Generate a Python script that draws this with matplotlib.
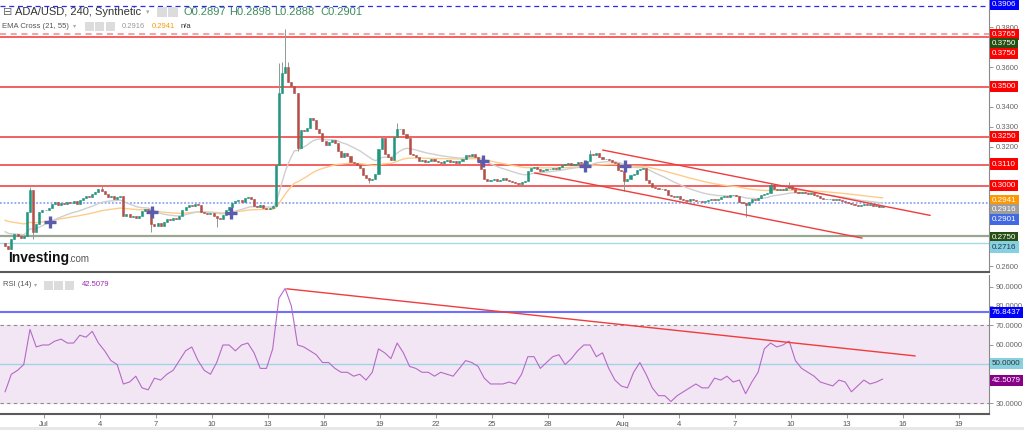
import numpy as np
import pandas as pd
import matplotlib
matplotlib.use('Agg')
import matplotlib.pyplot as plt
import matplotlib.dates as mdates
from matplotlib.patches import Rectangle
from matplotlib.ticker import FormatStrFormatter

plt.rcParams['font.family'] = ['Liberation Sans', 'DejaVu Sans']

# ADA/USD 4h closes, first bar 2018-06-28 20:00
first_candle = '2018-06-28 20:00'
first_open = 0.2715
closes = [
    0.2700,                                          # Jun 28
    0.2685, 0.2735, 0.2760, 0.2750, 0.2740, 0.2750,  # Jun 29
    0.2870, 0.2980, 0.2770, 0.2810, 0.2870, 0.2880,  # Jun 30
    0.2880, 0.2890, 0.2910, 0.2920, 0.2905, 0.2915,  # Jul 1
    0.2910, 0.2920, 0.2915, 0.2925, 0.2910, 0.2930,
    0.2940, 0.2950, 0.2945, 0.2960, 0.2970, 0.2985,
    0.2975, 0.2960, 0.2945, 0.2950, 0.2935, 0.2945,  # Jul 4
    0.2950, 0.2850, 0.2860, 0.2845, 0.2850, 0.2840,
    0.2850, 0.2875, 0.2885, 0.2880, 0.2810, 0.2800,
    0.2815, 0.2800, 0.2820, 0.2835, 0.2830, 0.2840,  # Jul 7
    0.2835, 0.2850, 0.2880, 0.2895, 0.2905, 0.2900,
    0.2910, 0.2905, 0.2870, 0.2865, 0.2860, 0.2865,
    0.2850, 0.2840, 0.2835, 0.2855, 0.2880, 0.2895,  # Jul 10
    0.2915, 0.2925, 0.2930, 0.2920, 0.2940, 0.2945,
    0.2935, 0.2900, 0.2895, 0.2905, 0.2890, 0.2885,
    0.2890, 0.2900, 0.3110, 0.3470, 0.3570, 0.3600,  # Jul 13
    0.3525, 0.3505, 0.3470, 0.3195, 0.3285, 0.3280,
    0.3295, 0.3345, 0.3335, 0.3290, 0.3270, 0.3230,
    0.3210, 0.3225, 0.3235, 0.3220, 0.3180, 0.3150,  # Jul 16
    0.3170, 0.3155, 0.3125, 0.3120, 0.3110, 0.3095,
    0.3060, 0.3045, 0.3035, 0.3040, 0.3065, 0.3190,
    0.3245, 0.3165, 0.3150, 0.3135, 0.3250, 0.3290,  # Jul 19
    0.3290, 0.3265, 0.3245, 0.3165, 0.3160, 0.3150,
    0.3130, 0.3135, 0.3125, 0.3130, 0.3140, 0.3130,
    0.3125, 0.3120, 0.3130, 0.3135, 0.3125, 0.3130,  # Jul 22
    0.3120, 0.3130, 0.3140, 0.3160, 0.3155, 0.3165,
    0.3150, 0.3130, 0.3090, 0.3040, 0.3030, 0.3035,
    0.3040, 0.3030, 0.3035, 0.3045, 0.3035, 0.3030,  # Jul 25
    0.3025, 0.3020, 0.3015, 0.3025, 0.3030, 0.3080,
    0.3095, 0.3100, 0.3090, 0.3080, 0.3085, 0.3090,
    0.3090, 0.3095, 0.3090, 0.3100, 0.3110, 0.3115,  # Jul 28
    0.3120, 0.3110, 0.3115, 0.3125, 0.3120, 0.3115,
    0.3130, 0.3165, 0.3160, 0.3170, 0.3150, 0.3140,
    0.3140, 0.3135, 0.3125, 0.3120, 0.3085, 0.3080,  # Jul 31
    0.3030, 0.3040, 0.3060, 0.3065, 0.3085, 0.3090,  # Aug 1
    0.3095, 0.3035, 0.3020, 0.2995, 0.2990, 0.2985,
    0.2985, 0.2980, 0.2955, 0.2950, 0.2945, 0.2950,
    0.2935, 0.2930, 0.2925, 0.2935, 0.2930, 0.2925,  # Aug 4
    0.2925, 0.2920, 0.2925, 0.2930, 0.2935, 0.2930,
    0.2935, 0.2945, 0.2950, 0.2945, 0.2955, 0.2955,
    0.2950, 0.2920, 0.2915, 0.2905, 0.2920, 0.2935,  # Aug 7
    0.2930, 0.2940, 0.2955, 0.2960, 0.2965, 0.3005,
    0.2985, 0.2980, 0.2985, 0.2980, 0.2990, 0.3000,
    0.2985, 0.2970, 0.2965, 0.2970, 0.2965, 0.2960,  # Aug 10
    0.2965, 0.2955, 0.2950, 0.2940, 0.2935, 0.2935,
    0.2935, 0.2930, 0.2935, 0.2930, 0.2925, 0.2920,
    0.2915, 0.2910, 0.2905, 0.2900, 0.2905, 0.2910,  # Aug 13
    0.2905, 0.2910, 0.2900, 0.2905, 0.2895, 0.2901,
]

# visible wicks (other bars drawn body only)
spike_highs = {
    '2018-06-30 04:00': 0.2998, '2018-07-04 00:00': 0.3000,
    '2018-07-13 12:00': 0.3620, '2018-07-13 16:00': 0.3625,
    '2018-07-13 20:00': 0.3790, '2018-07-14 00:00': 0.3625,
    '2018-07-19 20:00': 0.3320, '2018-07-30 04:00': 0.3185,
    '2018-08-08 20:00': 0.3018, '2018-08-09 20:00': 0.3022,
}
spike_lows = {
    '2018-06-30 08:00': 0.2735, '2018-07-06 16:00': 0.2772,
    '2018-07-10 04:00': 0.2795, '2018-07-14 12:00': 0.3180,
    '2018-07-18 08:00': 0.3020, '2018-08-01 00:00': 0.2975,
    '2018-08-07 12:00': 0.2845,
}

# RSI(14), one reading every second bar
rsi_every_2nd_bar = [
    36, 45, 47, 50, 68, 59, 60, 60, 62, 63, 61, 61, 65, 64, 67, 61, 57, 52,
    50, 40, 41, 44, 38, 37, 43, 42, 45, 47, 52, 57, 59, 52, 47, 45, 51, 60,
    60, 57, 60, 61, 56, 48, 48, 58, 84, 89, 80, 60, 59, 57, 55, 51, 51, 48,
    46, 46, 44, 45, 42, 46, 58, 56, 53, 61, 56, 49, 48, 46, 46, 44, 46, 45,
    44, 48, 52, 51, 49, 43, 40, 40, 40, 41, 40, 45, 54, 54, 48, 51, 54, 55,
    50, 53, 57, 60, 60, 54, 56, 48, 42, 39, 38, 46, 51, 45, 38, 34, 34, 31,
    34, 36, 38, 40, 38, 38, 43, 42, 44, 41, 42, 35, 41, 46, 58, 61, 59, 60,
    62, 52, 48, 46, 44, 41, 40, 39, 42, 41, 36, 39, 42, 40, 41, 42.5,
]

# indicator state carried in from before the first bar
ema_fast_seed = 0.2780
ema_slow_seed = 0.2835

red_levels = [0.3750, 0.3500, 0.3250, 0.3110, 0.3000]
pink_dashed_level = 0.3765
blue_dashed_level = 0.3906
last_ema_level = 0.2916
green_level = 0.2750
cyan_level = 0.2716

upper_channel_t = ['2018-07-30 22:30', '2018-08-17 11:00']
upper_channel_p = [0.3183, 0.2855]
lower_channel_t = ['2018-07-27 07:00', '2018-08-13 19:30']
lower_channel_p = [0.3068, 0.2741]
rsi_trend_t = ['2018-07-14 00:30', '2018-08-16 15:40']
rsi_trend_v = [88.8, 54.4]
rsi_blue_level = 76.8437

cross_times = ['2018-07-01 07:40', '2018-07-06 18:50', '2018-07-11 00:30',
               '2018-07-24 12:20', '2018-07-29 23:30', '2018-08-01 02:50']
cross_prices = [0.2822, 0.2872, 0.2867, 0.3128, 0.3103, 0.3103]

price_tags = ['0.3906', '0.3765', '0.3750', '0.3750', '0.3500', '0.3250', '0.3110',
              '0.3000', '0.2941', '0.2916', '0.2901', '0.2750', '0.2716']
rsi_tags = ['76.8437', '50.0000', '42.5079']

price_ticks = [0.26, 0.32, 0.33, 0.34, 0.36, 0.38]
rsi_ticks = [30, 60, 70, 80, 90]

tick_dates = ['2018-07-01', '2018-07-04', '2018-07-07', '2018-07-10', '2018-07-13',
              '2018-07-16', '2018-07-19', '2018-07-22', '2018-07-25', '2018-07-28',
              '2018-08-01', '2018-08-04', '2018-08-07', '2018-08-10', '2018-08-13',
              '2018-08-16', '2018-08-19']
tick_labels = ['Jul', '4', '7', '10', '13', '16', '19', '22', '25', '28',
               'Aug', '4', '7', '10', '13', '16', '19']


def ema(values, span, seed):
    k = 2 / (span + 1)
    out, prev = [], seed
    for v in values:
        prev = prev + k * (v - prev)
        out.append(prev)
    return np.array(out)


def dn(ts):
    return mdates.date2num(pd.to_datetime(ts))


times = pd.date_range(first_candle, periods=len(closes), freq='4h')
c = np.array(closes)
o = np.concatenate([[first_open], c[:-1]])
hi = np.maximum(o, c)
lo = np.minimum(o, c)
for t, v in spike_highs.items():
    hi[times.get_loc(pd.Timestamp(t))] = v
for t, v in spike_lows.items():
    lo[times.get_loc(pd.Timestamp(t))] = v
x = mdates.date2num(times) + 2 / 24

ema21 = ema(c, 21, ema_fast_seed)
ema55 = ema(c, 55, ema_slow_seed)

W, H = 1024, 430
fig = plt.figure(figsize=(W / 100, H / 100), dpi=100)


def fx(px):
    return px / W


def fy(py):
    return 1 - py / H


ax1 = fig.add_axes([0, fy(272), fx(989), 272 / H])
ax2 = fig.add_axes([0, fy(414), fx(989), (414 - 275) / H])

xlim = (dn('2018-06-28 15:26'), dn('2018-08-20 14:53'))
for ax in (ax1, ax2):
    ax.set_xlim(*xlim)
    ax.yaxis.tick_right()
    ax.spines['top'].set_visible(False)
    ax.spines['left'].set_visible(False)
    ax.spines['right'].set_color('#8a8a8a')
    ax.spines['right'].set_linewidth(0.8)
    ax.spines['bottom'].set_color('#5a5a5a')
    ax.spines['bottom'].set_linewidth(1.5)
    ax.tick_params(axis='y', labelsize=5.5, labelcolor='#666666', color='#888888',
                   length=3, width=0.6, pad=2)
    ax.yaxis.set_major_formatter(FormatStrFormatter('%.4f'))

# --- price panel ---
ax1.set_ylim(0.25704, 0.3937)
ax1.set_yticks(price_ticks)
ax1.set_xticks([])

for lv in red_levels:
    ax1.axhline(lv, color='#f25555', lw=1.3, zorder=1)
ax1.axhline(pink_dashed_level, color='#f08a8a', lw=1.1, dashes=(4, 3), zorder=1)
ax1.axhline(blue_dashed_level, color='#2a2af0', lw=0.9, dashes=(4, 3), zorder=1)
ax1.axhline(last_ema_level, color='#8fa6f2', lw=1.3, ls=(0, (1, 1)), zorder=1)
ax1.axhline(green_level, color='#98a890', lw=1.6, zorder=1)
ax1.axhline(cyan_level, color='#a8d8ea', lw=1.0, zorder=1)

ax1.plot(x, ema55, color='#ffcc88', lw=1.0, zorder=1.5)
ax1.plot(x, ema21, color='#cfcfcf', lw=1.0, zorder=1.5)

up = c >= o
up_color, down_color, wick_color = '#22967f', '#b4504a', '#8c9c94'
ax1.vlines(x, lo, hi, color=wick_color, lw=0.7, zorder=2)
ax1.bar(x[up], (c - o)[up], bottom=o[up], width=0.11, color=up_color,
        edgecolor=up_color, lw=0.4, zorder=3)
ax1.bar(x[~up], (c - o)[~up], bottom=o[~up], width=0.11, color=down_color,
        edgecolor=down_color, lw=0.4, zorder=3)

ax1.plot(dn(upper_channel_t), upper_channel_p, color='#f03c3c', lw=1.0, zorder=4)
ax1.plot(dn(lower_channel_t), lower_channel_p, color='#f03c3c', lw=1.0, zorder=4)
ax1.plot(dn(cross_times), cross_prices, ls='none', marker='+', ms=8, mew=2.4,
         color='#5a5cae', zorder=5)

# right-hand price tags (stacked so they do not collide)
tag_y = [0.3912, 0.37645, 0.3716, 0.3666, 0.3500, 0.3249, 0.3113,
         0.3003, 0.2932, 0.2882, 0.2832, 0.2746, 0.2696]
tag_bg = ['#0000ff', '#ff0000', '#274e13', '#ff0000', '#ff0000', '#ff0000', '#ff0000',
          '#ff0000', '#ff9800', '#9e9e9e', '#4169e1', '#274e13', '#86d0df']
tag_fg = ['white'] * 12 + ['#1d3b55']


def tag(ax, y, text, bg, fg):
    ax.text(1.0 + 3 / 989, y, text, transform=ax.get_yaxis_transform(), ha='left',
            va='center', fontsize=5.8, color=fg, clip_on=False, zorder=10,
            bbox=dict(boxstyle='square,pad=0.25', fc=bg, ec='none'))


for y, t, b, f in zip(tag_y, price_tags, tag_bg, tag_fg):
    tag(ax1, y, t, b, f)

# --- RSI panel ---
ax2.set_ylim(24.6, 95.9)
ax2.set_yticks(rsi_ticks)
ax2.axhspan(30, 70, color='#f3e6f4', zorder=0)
ax2.axhline(70, color='#8c8c8c', lw=0.8, dashes=(3, 3), zorder=1)
ax2.axhline(30, color='#8c8c8c', lw=0.8, dashes=(3, 3), zorder=1)
ax2.axhline(rsi_blue_level, color='#6e6eff', lw=1.5, zorder=1)
ax2.axhline(50, color='#a2d2e6', lw=1.0, zorder=1)
ax2.plot(x[::2], rsi_every_2nd_bar, color='#b56ac6', lw=0.8, zorder=2)
ax2.plot(dn(rsi_trend_t), rsi_trend_v, color='#f03c3c', lw=1.0, zorder=3)

for y, t, b, f in zip([76.9, 50.3, 42.0], rsi_tags,
                      ['#0000ff', '#86d0df', '#880088'], ['white', '#333333', 'white']):
    tag(ax2, y, t, b, f)

ax2.set_xticks(dn(tick_dates))
ax2.set_xticklabels(tick_labels)
ax2.tick_params(axis='x', labelsize=5.5, labelcolor='#555555', color='#888888',
                length=3, width=0.6, pad=2)

# --- header texts ---
fig.text(fx(3), fy(12), '\u229f', fontsize=8, color='#666666', va='center',
         family=['DejaVu Sans'])
fig.text(fx(15), fy(12), 'ADA/USD, 240, Synthetic', fontsize=8, color='#333333', va='center')
fig.text(fx(146), fy(12), '\u25be', fontsize=5, color='#aaaaaa', va='center',
         family=['DejaVu Sans'])
ohlc = [('O', '0.2897', 183), ('H', '0.2898', 229), ('L', '0.2888', 274), ('C', '0.2901', 320)]
for k, v, px in ohlc:
    fig.text(fx(px), fy(12), k + v, fontsize=8, color='#3f8a5c', va='center')

fig.text(fx(2), fy(26), 'EMA Cross (21, 55)', fontsize=5.5, color='#555555', va='center')
fig.text(fx(73), fy(26), '\u25be', fontsize=4.5, color='#aaaaaa', va='center',
         family=['DejaVu Sans'])
fig.text(fx(122), fy(26), '0.2916', fontsize=5.5, color='#999999', va='center')
fig.text(fx(152), fy(26), '0.2941', fontsize=5.5, color='#ff9800', va='center')
fig.text(fx(181), fy(26), 'n/a', fontsize=5.5, color='#333333', va='center')

fig.text(fx(3), fy(285), 'RSI (14)', fontsize=5.5, color='#555555', va='center')
fig.text(fx(34), fy(285), '\u25be', fontsize=4.5, color='#aaaaaa', va='center',
         family=['DejaVu Sans'])
fig.text(fx(82), fy(285), '42.5079', fontsize=5.5, color='#9c27b0', va='center')

icon_boxes = [(157, 7, 10), (168, 7, 10), (85, 22, 9), (95, 22, 9), (106, 22, 9),
              (44, 281, 9), (54, 281, 9), (65, 281, 9)]
for px, py, s in icon_boxes:
    fig.patches.append(Rectangle((fx(px), fy(py + s)), s / W, s / H,
                                 transform=fig.transFigure, fc='#dcdcdc', ec='none'))

fig.text(fx(8), fy(262), 'Investing', fontsize=10, fontweight='bold', color='#111111',
         va='baseline')
fig.text(fx(68), fy(262), '.com', fontsize=7, color='#555555', va='baseline')

fig.patches.append(Rectangle((0, 0), 1, 3 / H, transform=fig.transFigure,
                             fc='#e8e8e8', ec='none'))

fig.savefig('out.png', dpi=100)
